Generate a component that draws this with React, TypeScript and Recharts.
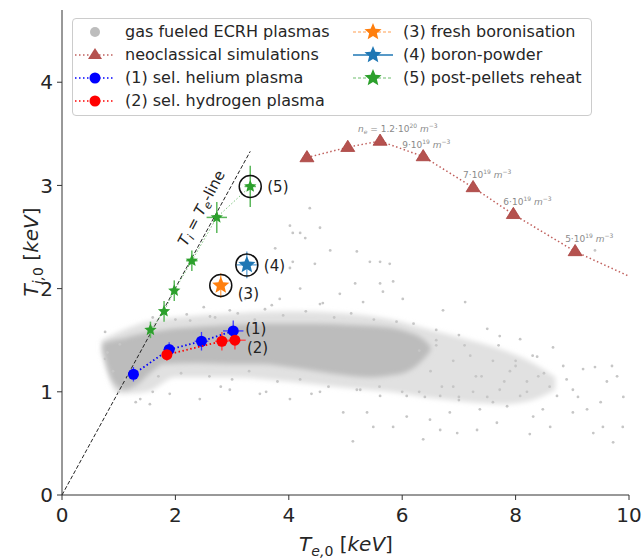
import React from 'react';
import { ComposedChart, Area, Scatter, XAxis, YAxis, ErrorBar, ReferenceLine, ReferenceDot } from 'recharts';

const FONT = '"DejaVu Sans", sans-serif';

// dense core of the gas fueled ECRH cloud
const coreTe = [0.72, 0.9, 1.1, 1.3, 1.55, 1.8, 2.4, 3.0, 3.5, 4.0, 4.5, 5.0, 5.4, 5.8, 6.1, 6.35, 6.5];
const coreLo = [1.4, 1.1, 1.02, 1.06, 1.18, 1.27, 1.28, 1.27, 1.27, 1.24, 1.2, 1.16, 1.14, 1.16, 1.2, 1.3, 1.4];
const coreHi = [1.47, 1.5, 1.52, 1.55, 1.58, 1.6, 1.63, 1.65, 1.66, 1.66, 1.66, 1.65, 1.64, 1.62, 1.58, 1.52, 1.44];

// lighter halo round it
const haloTe = [0.7, 1.0, 1.5, 2.0, 3.0, 4.0, 5.0, 5.8, 6.5, 7.2, 7.8, 8.3, 8.7];
const haloLo = [1.38, 0.98, 1.0, 1.14, 1.14, 1.1, 1.04, 1.0, 0.94, 0.9, 0.88, 0.92, 1.02];
const haloHi = [1.5, 1.58, 1.68, 1.72, 1.76, 1.78, 1.76, 1.7, 1.6, 1.5, 1.4, 1.28, 1.14];

// scattered single shots
const dotTe = [5.61, 5.84, 5.31, 5.66, 6.01, 6.72, 7.11, 7.5, 7.72, 8.08, 8.66, 8.38, 8.84, 9.19, 9.4, 9.79, 9.61, 9.01, 8.73, 8.48,
  8.31, 8.61, 9.01, 9.26, 9.54, 9.89, 9.72, 9.37, 8.25, 7.67, 7.32, 6.97, 6.67, 6.37, 5.84, 5.49, 5.13, 4.96, 5.38, 6.08,
  6.49, 6.84, 7.37, 7.85, 8.08, 7.72, 7.25, 6.67, 6.08, 5.61, 5.26, 3.84, 4.2, 4.55, 4.9, 5.17, 3.58, 3.23, 2.96, 2.61,
  2.26, 0.76, 1.02, 0.76, 1.11, 1.38, 1.55, 1.9, 2.43, 2.96, 3.49, 4.02, 4.55, 4.29, 4.46, 4.55, 4.37, 3.76, 4.02, 4.02,
  4.07, 4.2, 4.73, 5.2, 5.43, 5.61, 5.78, 4.07, 9.4, 6.9, 7.4, 7.9, 8.2, 6.3, 7.0, 7.6, 8.0, 6.6, 7.2, 8.5,
  1.6, 2.0, 2.2, 2.7, 3.1, 3.4, 3.9, 4.3, 4.8, 5.1, 5.5, 5.9, 6.2, 6.6, 7.0, 2.5, 3.7, 4.6,
  1.7, 2.1, 2.6, 3.0, 3.3, 3.8, 4.2, 4.7, 5.2, 5.6, 6.0, 6.4, 2.8, 3.6, 4.4, 1.3, 1.0, 0.9, 0.8, 1.6,
  6.3, 6.5, 6.7, 6.9, 7.1, 7.3, 7.5, 7.6, 7.8, 8.0, 8.2, 8.3, 6.6, 7.0, 7.7, 8.4, 8.6, 8.9, 9.1, 9.5, 9.9, 9.7];
const dotTi = [2.05, 2.07, 1.87, 1.97, 1.9, 1.79, 1.87, 1.61, 1.54, 1.51, 1.43, 1.34, 1.25, 1.22, 1.24, 1.15, 1.1, 1.02, 0.96, 0.83,
  0.76, 0.66, 0.8, 0.83, 0.66, 0.66, 0.51, 0.6, 0.59, 0.7, 0.63, 0.6, 0.63, 0.54, 0.66, 0.66, 0.52, 0.8, 0.8, 0.76,
  0.73, 0.8, 0.83, 0.86, 0.96, 1.02, 1.0, 0.96, 0.96, 0.96, 1.02, 1.9, 2.0, 1.85, 1.95, 2.05, 1.8, 1.9, 1.79, 1.73,
  1.69, 1.58, 1.46, 1.32, 1.12, 0.93, 0.88, 0.98, 0.93, 1.02, 0.98, 0.93, 1.0, 2.49, 2.24, 2.59, 2.78, 2.39, 2.2, 2.61,
  2.54, 2.54, 2.37, 2.36, 2.26, 2.26, 2.24, 2.26, 2.37, 1.05, 1.15, 1.2, 1.1, 1.0, 0.95, 0.9, 1.3, 1.45, 1.35, 1.18,
  1.72, 1.7, 1.75, 1.72, 1.76, 1.7, 1.74, 1.78, 1.72, 1.76, 1.7, 1.68, 1.66, 1.6, 1.55, 1.82, 1.84, 1.86,
  1.15, 1.18, 1.15, 1.12, 1.2, 1.1, 1.12, 1.05, 1.02, 1.05, 1.0, 0.95, 1.05, 1.0, 0.98, 0.9, 1.0, 1.2, 1.38, 1.0,
  1.4, 1.2, 1.05, 1.3, 1.45, 1.15, 0.95, 1.3, 1.1, 1.25, 1.0, 1.35, 1.5, 0.92, 1.45, 1.15, 1.05, 1.12, 0.95, 0.9, 0.95, 1.25];

// neoclassical simulations
const neoTe = [4.32, 5.04, 5.61, 6.37, 7.25, 7.96, 9.05, 10.0];
const neoTi = [3.27, 3.37, 3.43, 3.28, 2.98, 2.72, 2.36, 2.12];
const neoMant = ['', '', '1.2', '9', '7', '6', '5', ''];
const neoExp = ['', '', '20', '19', '19', '19', '19', ''];

// (1) helium
const heTe = [1.26, 1.89, 2.46, 3.02];
const heTi = [1.17, 1.41, 1.49, 1.59];
const heDTe = [0.08, 0.1, 0.12, 0.18];
const heDTi = [0.07, 0.07, 0.09, 0.1];

// (2) hydrogen
const hTe = [1.85, 2.82, 3.05];
const hTi = [1.36, 1.49, 1.5];
const hDTe = [0.08, 0.12, 0.19];
const hDTi = [0.06, 0.09, 0.09];

// (3) fresh boronisation, (4) boron powder
const fbTe = [2.8];
const fbTi = [2.03];
const fbDTe = [0.08];
const fbDTi = [0.12];
const bpTe = [3.26];
const bpTi = [2.23];
const bpDTe = [0.2];
const bpDTi = [0.13];

// (5) post-pellets reheat
const ppTe = [1.56, 1.8, 1.98, 2.29, 2.73, 3.32];
const ppTi = [1.6, 1.78, 1.98, 2.27, 2.69, 2.99];
const ppDTe = [0.05, 0.05, 0.06, 0.1, 0.18, 0.1];
const ppDTi = [0.08, 0.1, 0.1, 0.1, 0.15, 0.2];

const numbered = [
  { label: '(1)', te: heTe[3], ti: heTi[3], dx: 12, dy: 3 },
  { label: '(2)', te: hTe[2], ti: hTi[2], dx: 12, dy: 13 },
  { label: '(3)', te: fbTe[0], ti: fbTi[0], dx: 17, dy: 13 },
  { label: '(4)', te: bpTe[0], ti: bpTi[0], dx: 17, dy: 6 },
  { label: '(5)', te: ppTe[5], ti: ppTi[5], dx: 17, dy: 6 },
];

const xTicks = [0, 2, 4, 6, 8, 10];
const yTicks = [0, 1, 2, 3, 4];

const band = (xs: number[], lo: number[], hi: number[]) => xs.map((x, i) => ({ te: x, band: [lo[i], hi[i]] }));
const pts = (xs: number[], ys: number[], dx?: number[], dy?: number[]) =>
  xs.map((x, i) => ({ te: x, ti: ys[i], dte: dx ? dx[i] : 0, dti: dy ? dy[i] : 0 }));

const coreData = band(coreTe, coreLo, coreHi);
const haloData = band(haloTe, haloLo, haloHi);
const dotData = pts(dotTe, dotTi);
const neoData = neoTe.map((x, i) => ({ te: x, ti: neoTi[i], mark: i < neoTe.length - 1 }));
const heData = pts(heTe, heTi, heDTe, heDTi);
const hData = pts(hTe, hTi, hDTe, hDTi);
const fbData = pts(fbTe, fbTi, fbDTe, fbDTi);
const bpData = pts(bpTe, bpTi, bpDTe, bpDTi);
const ppData = pts(ppTe, ppTi, ppDTe, ppDTi);

function starPoints(cx: number, cy: number, r: number) {
  const p: string[] = [];
  for (let i = 0; i < 10; i++) {
    const a = -Math.PI / 2 + (i * Math.PI) / 5;
    const rr = i % 2 === 0 ? r : r * 0.45;
    p.push(`${(cx + rr * Math.cos(a)).toFixed(2)},${(cy + rr * Math.sin(a)).toFixed(2)}`);
  }
  return p.join(' ');
}

const star = (color: string, r: number) => (p: any) => <polygon points={starPoints(p.cx, p.cy, r)} fill={color} />;
const circle = (color: string, r: number) => (p: any) => <circle cx={p.cx} cy={p.cy} r={r} fill={color} />;
const tri = (p: any) => {
  if (!p.payload || !p.payload.mark) return <g />;
  const s = 7;
  return (
    <polygon
      points={`${p.cx},${p.cy - s} ${p.cx - s},${p.cy + s * 0.6} ${p.cx + s},${p.cy + s * 0.6}`}
      fill="#b5524f"
      stroke="#a8403d"
      strokeWidth={0.8}
    />
  );
};

function LegendRow({ children, marker }: { children: React.ReactNode; marker: React.ReactNode }) {
  return (
    <div style={{ display: 'flex', alignItems: 'center', height: 23 }}>
      <svg width={44} height={20} style={{ marginRight: 8 }}>{marker}</svg>
      <span>{children}</span>
    </div>
  );
}

const lineMark = (color: string, dash: string, sym: React.ReactNode) => (
  <g>
    <line x1={2} y1={10} x2={42} y2={10} stroke={color} strokeWidth={1.5} strokeDasharray={dash} />
    {sym}
  </g>
);

function LegendBox() {
  return (
    <div
      style={{
        position: 'absolute', left: 72, top: 18, width: 520, height: 98, boxSizing: 'border-box',
        border: '1px solid #cccccc', borderRadius: 4, background: 'rgba(255,255,255,0.85)',
        fontFamily: FONT, fontSize: 16, color: '#262626', display: 'flex', padding: '1px 0 0 0',
      }}
    >
      <div style={{ marginLeft: 0, width: 278 }}>
        <LegendRow marker={<circle cx={22} cy={10} r={5} fill="#bdbdbd" />}>gas fueled ECRH plasmas</LegendRow>
        <LegendRow marker={lineMark('#c0605d', '1.5 2.5', <polygon points="22,3 15,14 29,14" fill="#b5524f" />)}>
          neoclassical simulations
        </LegendRow>
        <LegendRow marker={lineMark('#0000ff', '1.5 2.5', <circle cx={22} cy={10} r={5.5} fill="#0000ff" />)}>
          (1) sel. helium plasma
        </LegendRow>
        <LegendRow marker={lineMark('#ff0000', '1.5 2.5', <circle cx={22} cy={10} r={5.5} fill="#ff0000" />)}>
          (2) sel. hydrogen plasma
        </LegendRow>
      </div>
      <div>
        <LegendRow marker={lineMark('#ffbf8a', '3 2', <polygon points={starPoints(22, 10, 9)} fill="#ff7f0e" />)}>
          (3) fresh boronisation
        </LegendRow>
        <LegendRow marker={lineMark('#1f77b4', '', <polygon points={starPoints(22, 10, 9)} fill="#1f77b4" />)}>
          (4) boron-powder
        </LegendRow>
        <LegendRow marker={lineMark('#9fd49f', '3 2', <polygon points={starPoints(22, 10, 9)} fill="#2ca02c" />)}>
          (5) post-pellets reheat
        </LegendRow>
      </div>
    </div>
  );
}

const tickStyle = { fill: '#262626', fontSize: 20, fontFamily: FONT };

export default function App() {
  return (
    <div style={{ position: 'absolute', left: 0, top: 0, width: 643, height: 558, background: '#fff' }}>
      <style>{'.cloud path { filter: url(#cloudBlur); }'}</style>
      <svg width={0} height={0} style={{ position: 'absolute' }}>
        <defs>
          <filter id="cloudBlur" x="-10%" y="-30%" width="120%" height="160%">
            <feGaussianBlur stdDeviation="2.5" />
          </filter>
        </defs>
      </svg>
      <ComposedChart width={643} height={558} margin={{ top: 10, right: 14, bottom: 0, left: 0 }}>
        <XAxis
          dataKey="te" type="number" domain={[0, 10]} ticks={xTicks} allowDataOverflow
          tick={tickStyle} tickSize={5} tickMargin={8} height={63}
          axisLine={{ stroke: '#333' }} tickLine={{ stroke: '#333' }}
          label={{
            content: () => (
              <text x={346} y={551} textAnchor="middle" fontFamily={FONT} fontSize={20} fill="#262626">
                <tspan fontStyle="italic">T</tspan>
                <tspan fontStyle="italic" fontSize={14} dy={5}>e,</tspan>
                <tspan fontSize={14}>0</tspan>
                <tspan dy={-5}> [</tspan>
                <tspan fontStyle="italic">keV</tspan>
                <tspan>]</tspan>
              </text>
            ),
          }}
        />
        <XAxis xAxisId="top" orientation="top" type="number" domain={[0, 10]} height={0} tick={false} tickLine={false} axisLine={{ stroke: '#333' }} />
        <YAxis
          dataKey="ti" type="number" domain={[0, 4.7]} ticks={yTicks} allowDataOverflow
          tick={tickStyle} tickSize={5} tickMargin={4} width={62}
          axisLine={{ stroke: '#333' }} tickLine={{ stroke: '#333' }}
          label={{
            content: () => (
              <text transform="translate(38 252) rotate(-90)" textAnchor="middle" fontFamily={FONT} fontSize={20} fill="#262626">
                <tspan fontStyle="italic">T</tspan>
                <tspan fontStyle="italic" fontSize={14} dy={5}>i,</tspan>
                <tspan fontSize={14}>0</tspan>
                <tspan dy={-5}> [</tspan>
                <tspan fontStyle="italic">keV</tspan>
                <tspan>]</tspan>
              </text>
            ),
          }}
        />
        <YAxis yAxisId="right" orientation="right" type="number" domain={[0, 4.7]} width={0} tick={false} tickLine={false} axisLine={{ stroke: '#333' }} />

        <Area className="cloud" data={haloData} dataKey="band" type="monotone" stroke="none" fill="#d9d9d9" fillOpacity={0.8} isAnimationActive={false} />
        <Area className="cloud" data={coreData} dataKey="band" type="monotone" stroke="none" fill="#bcbcbc" fillOpacity={1} isAnimationActive={false} />
        <Scatter data={dotData} dataKey="ti" shape={circle('#c6c6c6', 1.4)} isAnimationActive={false} />

        <ReferenceLine segment={[{ x: 0, y: 0 }, { x: 3.32, y: 3.33 }]} stroke="#222" strokeWidth={1} strokeDasharray="4 2" />
        <ReferenceDot
          x={2.46} y={2.78} r={0}
          shape={(p: any) => (
            <text
              transform={`rotate(-62 ${p.cx} ${p.cy})`} x={p.cx} y={p.cy + 5} textAnchor="middle"
              fontFamily={FONT} fontSize={15} fill="#222"
            >
              <tspan fontStyle="italic">T</tspan>
              <tspan fontStyle="italic" fontSize={11} dy={3}>i</tspan>
              <tspan dy={-3}> = </tspan>
              <tspan fontStyle="italic">T</tspan>
              <tspan fontStyle="italic" fontSize={11} dy={3}>e</tspan>
              <tspan dy={-3}>-line</tspan>
            </text>
          )}
        />

        <Scatter
          data={neoData} dataKey="ti" shape={tri} isAnimationActive={false}
          line={{ stroke: '#c0605d', strokeWidth: 1.5, strokeDasharray: '1.5 2.5' }}
        />

        <Scatter data={ppData} dataKey="ti" shape={star('#2ca02c', 6.5)} isAnimationActive={false}
          line={{ stroke: '#7cc47c', strokeWidth: 1, strokeDasharray: '1.5 2' }}>
          <ErrorBar dataKey="dti" direction="y" width={0} stroke="#5cb85c" strokeWidth={1.5} />
          <ErrorBar dataKey="dte" direction="x" width={0} stroke="#5cb85c" strokeWidth={1.5} />
        </Scatter>
        <Scatter data={heData} dataKey="ti" shape={circle('#0000ff', 5.5)} isAnimationActive={false}
          line={{ stroke: '#0000ff', strokeWidth: 1.8, strokeDasharray: '1.5 2.5' }}>
          <ErrorBar dataKey="dti" direction="y" width={0} stroke="#3b3bff" strokeWidth={1.3} />
          <ErrorBar dataKey="dte" direction="x" width={0} stroke="#3b3bff" strokeWidth={1.3} />
        </Scatter>
        <Scatter data={hData} dataKey="ti" shape={circle('#ff0000', 5.5)} isAnimationActive={false}
          line={{ stroke: '#ff0000', strokeWidth: 1.8, strokeDasharray: '1.5 2.5' }}>
          <ErrorBar dataKey="dti" direction="y" width={0} stroke="#ff4040" strokeWidth={1.3} />
          <ErrorBar dataKey="dte" direction="x" width={0} stroke="#ff4040" strokeWidth={1.3} />
        </Scatter>
        <Scatter data={fbData} dataKey="ti" shape={star('#ff7f0e', 9)} isAnimationActive={false}>
          <ErrorBar dataKey="dti" direction="y" width={0} stroke="#ffa552" strokeWidth={1.3} />
          <ErrorBar dataKey="dte" direction="x" width={0} stroke="#ffa552" strokeWidth={1.3} />
        </Scatter>
        <Scatter data={bpData} dataKey="ti" shape={star('#1f77b4', 9)} isAnimationActive={false}>
          <ErrorBar dataKey="dti" direction="y" width={0} stroke="#5a9fd4" strokeWidth={1.3} />
          <ErrorBar dataKey="dte" direction="x" width={0} stroke="#5a9fd4" strokeWidth={1.3} />
        </Scatter>

        {numbered.slice(2).map((d) => (
          <ReferenceDot key={'ring' + d.label} x={d.te} y={d.ti} r={11} fill="none" stroke="#111" strokeWidth={1.5} />
        ))}
        {numbered.map((d) => (
          <ReferenceDot
            key={d.label} x={d.te} y={d.ti} r={0}
            shape={(p: any) => (
              <text x={p.cx + d.dx} y={p.cy + d.dy} fontFamily={FONT} fontSize={15} fill="#222">{d.label}</text>
            )}
          />
        ))}
        {neoTe.map((x, i) =>
          neoMant[i] ? (
            <ReferenceDot
              key={'ne' + i} x={x} y={neoTi[i]} r={0}
              shape={(p: any) => (
                <text x={p.cx + (i === 2 ? -22 : i === 3 ? -21 : -10)} y={p.cy - 9} fontFamily={FONT} fontSize={9} fill="#8a8a8a">
                  {i === 2 ? (
                    <>
                      <tspan fontStyle="italic">n</tspan>
                      <tspan fontStyle="italic" fontSize={6} dy={2}>e</tspan>
                      <tspan dy={-2}> = </tspan>
                    </>
                  ) : null}
                  <tspan>{neoMant[i]}·10</tspan>
                  <tspan fontSize={6} dy={-4}>{neoExp[i]}</tspan>
                  <tspan dy={4} fontStyle="italic"> m</tspan>
                  <tspan fontSize={6} dy={-4}>−3</tspan>
                </text>
              )}
            />
          ) : null
        )}
      </ComposedChart>
      <LegendBox />
    </div>
  );
}
